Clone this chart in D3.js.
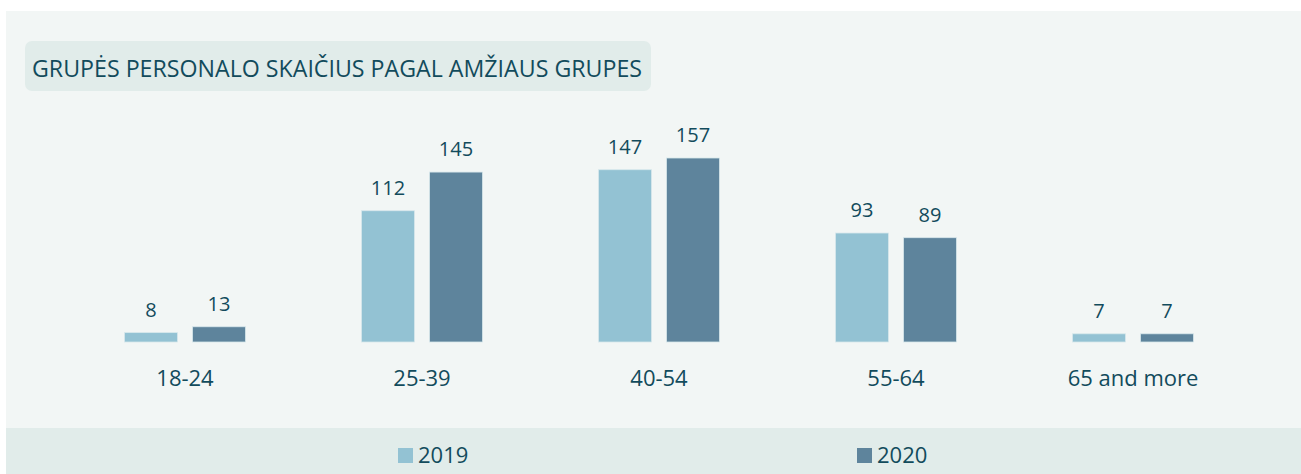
<!DOCTYPE html>
<html><head><meta charset="utf-8">
<script src="https://cdn.jsdelivr.net/npm/d3@7"></script>
<style>html,body{margin:0;padding:0;background:#fff;}svg{display:block;}</style>
</head><body><div id="chart"></div>
<script>
const title = "GRUPĖS PERSONALO SKAIČIUS PAGAL AMŽIAUS GRUPES";
const categories = ["18-24","25-39","40-54","55-64","65 and more"];
const seriesNames = ["2019","2020"];
const values2019 = [8,112,147,93,7];
const values2020 = [13,145,157,89,7];
const colors = ["#93c2d3","#5e849c"];
const W = 1301, H = 474;
const font = "'Open Sans', 'Noto Sans', sans-serif";
const textColor = "#124b5c";

const svg = d3.select("#chart").append("svg").attr("width",W).attr("height",H);
svg.append("rect").attr("x",6).attr("y",11).attr("width",W-6).attr("height",H-11).attr("fill","#f2f6f5");
svg.append("rect").attr("x",6).attr("y",428).attr("width",W-6).attr("height",H-428).attr("fill","#e1ecea");

svg.append("rect").attr("x",25).attr("y",41).attr("width",626).attr("height",50).attr("rx",7).attr("fill","#e1ecea");
svg.append("text").attr("x",32).attr("y",77).attr("font-family",font).attr("font-size",23)
  .attr("fill",textColor).attr("textLength",610).attr("lengthAdjust","spacingAndGlyphs").text(title);

const x = d3.scaleBand().domain(categories).range([66.5,1251.5]).paddingInner(0).paddingOuter(0);
const x1 = d3.scaleBand().domain(seriesNames).range([0,121]).paddingInner(15/68);
const y = d3.scaleLinear().domain([0,157]).range([342,158]);

const data = categories.map((c,i)=>({cat:c, vals:[values2019[i],values2020[i]]}));
const g = svg.append("g");
data.forEach(d=>{
  const cx = x(d.cat) + x.bandwidth()/2 - 60.5;
  d.vals.forEach((v,j)=>{
    const bx = cx + x1(seriesNames[j]);
    g.append("rect").attr("x",bx).attr("y",y(v)).attr("width",x1.bandwidth()).attr("height",y(0)-y(v))
      .attr("fill",colors[j]).attr("stroke","#d8e8ec").attr("stroke-width",0.8);
    g.append("text").attr("x",bx+x1.bandwidth()/2).attr("y",y(v)-16).attr("text-anchor","middle")
      .attr("font-family",font).attr("font-size",20).attr("fill",textColor).text(v);
  });
});

const xAxis = svg.append("g").attr("transform","translate(0,342)")
  .call(d3.axisBottom(x).tickSize(0).tickPadding(0));
xAxis.select(".domain").remove();
xAxis.selectAll("text").attr("dy",null).attr("y",44).attr("font-family",font).attr("font-size",22).attr("fill",textColor);

const legendX = [398,857];
seriesNames.forEach((s,j)=>{
  svg.append("rect").attr("x",legendX[j]).attr("y",448).attr("width",15).attr("height",15).attr("fill",colors[j]);
  svg.append("text").attr("x",legendX[j]+20).attr("y",463).attr("font-family",font)
    .attr("font-size",22).attr("fill",textColor).text(s);
});
</script></body></html>
